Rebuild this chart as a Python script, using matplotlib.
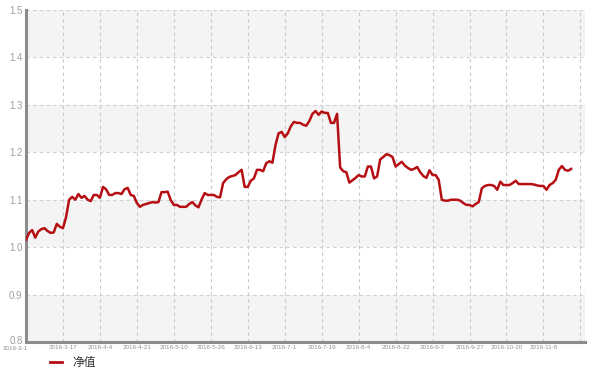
import matplotlib
matplotlib.use("Agg")
import matplotlib.pyplot as plt
import matplotlib.transforms as mtransforms
import numpy as np

# ---- data ----
tick_labels = ["2016-3-1", "2016-3-17", "2016-4-4", "2016-4-21", "2016-5-10",
               "2016-5-26", "2016-6-13", "2016-7-1", "2016-7-19", "2016-8-4",
               "2016-8-22", "2016-9-7", "2016-9-27", "2016-10-20", "2016-11-8"]
nav = [
    1.015, 1.030, 1.036, 1.020, 1.033, 1.038, 1.040, 1.034, 1.030, 1.031,
    1.049, 1.043, 1.040, 1.063, 1.100, 1.106, 1.100, 1.112, 1.104, 1.108,
    1.100, 1.097, 1.110, 1.110, 1.104, 1.127, 1.122, 1.110, 1.110, 1.114,
    1.114, 1.112, 1.122, 1.125, 1.110, 1.108, 1.093, 1.085, 1.089, 1.091,
    1.093, 1.095, 1.094, 1.095, 1.116, 1.116, 1.117, 1.099, 1.089, 1.089,
    1.085, 1.085, 1.085, 1.091, 1.095, 1.088, 1.084, 1.100, 1.114, 1.110,
    1.110, 1.110, 1.106, 1.105, 1.135, 1.143, 1.148, 1.150, 1.152, 1.158,
    1.163, 1.127, 1.127, 1.140, 1.145, 1.163, 1.163, 1.160, 1.177, 1.181,
    1.178, 1.215, 1.240, 1.243, 1.232, 1.240, 1.255, 1.264, 1.262, 1.262,
    1.258, 1.256, 1.266, 1.281, 1.287, 1.279, 1.286, 1.283, 1.283, 1.262,
    1.262, 1.281, 1.168, 1.160, 1.158, 1.136, 1.141, 1.146, 1.152, 1.149,
    1.149, 1.170, 1.170, 1.145, 1.149, 1.185, 1.190, 1.196, 1.194, 1.190,
    1.170, 1.175, 1.180, 1.172, 1.167, 1.163, 1.165, 1.169, 1.158, 1.150,
    1.146, 1.162, 1.152, 1.152, 1.142, 1.100, 1.098, 1.098, 1.100, 1.100,
    1.100, 1.098, 1.093, 1.089, 1.089, 1.086, 1.091, 1.095, 1.124, 1.129,
    1.131, 1.131, 1.129, 1.121, 1.138, 1.131, 1.131, 1.131, 1.135, 1.140,
    1.133, 1.133, 1.133, 1.133, 1.133, 1.132, 1.130, 1.129, 1.129, 1.121,
    1.131, 1.135, 1.142, 1.163, 1.171, 1.163, 1.161, 1.165,
]
y_ticks = [0.8, 0.9, 1.0, 1.1, 1.2, 1.3, 1.4, 1.5]
series_name = "净值"
tick_step = 12

# ---- figure ----
W, H = 597, 370
fig = plt.figure(figsize=(W / 100, H / 100), dpi=100)
ax = fig.add_axes([26 / W, 1 - 342 / H, (585 - 26) / W, (342 - 10) / H])

x = np.arange(len(nav))
xmax = 181.5
ax.set_xlim(0, xmax)
ax.set_ylim(0.8, 1.5)

# alternating bands
for i, (lo, hi) in enumerate(zip(y_ticks[:-1], y_ticks[1:])):
    if i % 2 == 0:
        ax.axhspan(lo, hi, color="#f4f4f4", zorder=0, lw=0)

xt = list(range(0, len(tick_labels) * tick_step, tick_step))
grid_x = xt + [len(tick_labels) * tick_step]
for gx in grid_x[1:]:
    ax.axvline(gx, color="#c8c8c8", lw=0.8, ls=(0, (3, 3)), zorder=1)
for gy in y_ticks[1:]:
    ax.axhline(gy, color="#d0d0d0", lw=0.8, ls=(0, (3, 3)), zorder=1)
ax.axvline(xmax, color="#c8c8c8", lw=0.8, ls=(0, (3, 3)), zorder=1)

line, = ax.plot(x, nav, color="#b50f14", lw=1.8, zorder=3, label=series_name)

for s in ["top", "right"]:
    ax.spines[s].set_visible(False)
for s in ["left", "bottom"]:
    ax.spines[s].set_color("#8c8c8c")
    ax.spines[s].set_linewidth(2.2)

ax.set_yticks(y_ticks)
ax.set_yticklabels([f"{v:.1f}" for v in y_ticks], fontsize=7,
                   color="#a0a0a0", family="Liberation Sans")
ax.set_xticks(xt)
ax.set_xticklabels(tick_labels, fontsize=4.5, color="#909090",
                   family="Liberation Sans")
ax.tick_params(axis="both", length=0)
ax.tick_params(axis="y", pad=2.5)
ax.tick_params(axis="x", pad=2.2)

# nudge the corner labels apart (as in the reference they nearly touch)
ylab0 = ax.get_yticklabels()[0]
ylab0.set_transform(ylab0.get_transform() +
                    mtransforms.ScaledTranslation(0, 2.5 / 100, fig.dpi_scale_trans))
first = ax.get_xticklabels()[0]
first.set_horizontalalignment("right")
first.set_transform(first.get_transform() +
                    mtransforms.ScaledTranslation(2 / 100, -1 / 100, fig.dpi_scale_trans))

# legend
fig.lines.append(plt.Line2D([50 / W, 62 / W], [1 - 362 / H, 1 - 362 / H],
                            transform=fig.transFigure, color="#b50f14", lw=2))
fig.text(72 / W, 1 - 362 / H, series_name, fontsize=8.5, color="#333333",
         va="center", ha="left", family=["Noto Sans CJK SC", "DejaVu Sans"])

fig.savefig("out.png", dpi=100)
